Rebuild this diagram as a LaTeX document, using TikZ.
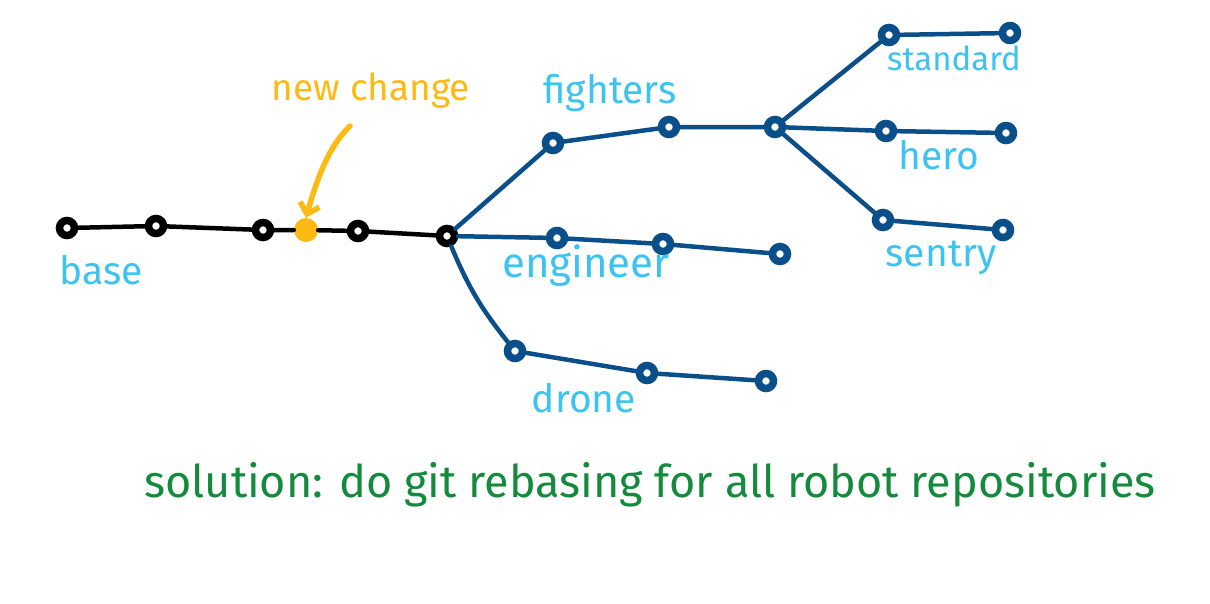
\documentclass[tikz,border=0pt]{standalone}
\usepackage{fontspec}
\setmainfont{Fira Sans}
\usetikzlibrary{arrows.meta}
\definecolor{branchblue}{HTML}{0B4F8A}
\definecolor{labelcyan}{HTML}{3CC3F2}
\definecolor{changeorange}{HTML}{FDBA12}
\definecolor{notegreen}{HTML}{138A3C}

\begin{document}
\begin{tikzpicture}[x=1pt,y=-1pt,
    commit/.style={circle,draw=#1,line width=7.5pt,fill=white,minimum size=15pt,inner sep=0pt},
    commit/.default=black,
    link/.style={line width=4.5pt,draw=#1,line cap=round},
    link/.default=black,
    lbl/.style={text=labelcyan,font=\fontsize{39}{45}\selectfont}]
  \useasboundingbox (0,0) rectangle (1210,603);

  \node[commit] (b1) at (67,228) {};
  \node[commit] (b2) at (156,226) {};
  \node[commit] (b3) at (263,230) {};
  \node[circle,fill=changeorange,minimum size=24pt,inner sep=0pt] (nc) at (306,230) {};
  \node[commit] (b4) at (358,231) {};
  \node[commit] (b5) at (447,236) {};

  \node[commit=branchblue] (f1) at (553,143) {};
  \node[commit=branchblue] (f2) at (669,127) {};
  \node[commit=branchblue] (f3) at (775,127) {};
  \node[commit=branchblue] (s1) at (889,35) {};
  \node[commit=branchblue] (s2) at (1010,33) {};
  \node[commit=branchblue] (h1) at (886,131) {};
  \node[commit=branchblue] (h2) at (1006,133) {};
  \node[commit=branchblue] (y1) at (883,220) {};
  \node[commit=branchblue] (y2) at (1003,230) {};
  \node[commit=branchblue] (e1) at (557,238) {};
  \node[commit=branchblue] (e2) at (663,244) {};
  \node[commit=branchblue] (e3) at (780,254) {};
  \node[commit=branchblue] (d1) at (515,351) {};
  \node[commit=branchblue] (d2) at (647,373) {};
  \node[commit=branchblue] (d3) at (766,381) {};

  \draw[link] (b1) -- (b2) -- (b3) -- (nc) -- (b4) -- (b5);
  \draw[link=branchblue] (b5) -- (f1) -- (f2) -- (f3);
  \draw[link=branchblue] (f3) -- (s1) -- (s2);
  \draw[link=branchblue] (f3) -- (h1) -- (h2);
  \draw[link=branchblue] (f3) -- (y1) -- (y2);
  \draw[link=branchblue] (b5) -- (e1) -- (e2) -- (e3);
  \draw[link=branchblue] (b5) to[bend right=8] (d1);
  \draw[link=branchblue] (d1) -- (d2) -- (d3);

  \node[lbl] (lbase) at (101,270) {base};
  \node[lbl] (lfight) at (610,93) {fighters};
  \node[lbl,font=\fontsize{42}{48}\selectfont] (leng) at (586,266) {engineer};
  \node[lbl] (ldrone) at (584,398) {drone};
  \node[lbl,font=\fontsize{33}{39}\selectfont] (lstd) at (954,58) {standard};
  \node[lbl] (lhero) at (939,155) {hero};
  \node[lbl] (lsent) at (941,258) {sentry};

  \node[text=changeorange,font=\fontsize{37}{43}\selectfont] (lnew) at (371,91) {new change};
  \coordinate (tail) at (350,126);
  \draw[changeorange,line width=5.5pt,line cap=round,-{Straight Barb[length=10pt,width=20pt]}]
    (tail) .. controls (330,145) and (318,175) .. (nc.north);

  \node[text=notegreen,font=\fontsize{45}{52}\selectfont] (note) at (650,485)
    {solution: do git rebasing for all robot repositories};
\end{tikzpicture}
\end{document}
